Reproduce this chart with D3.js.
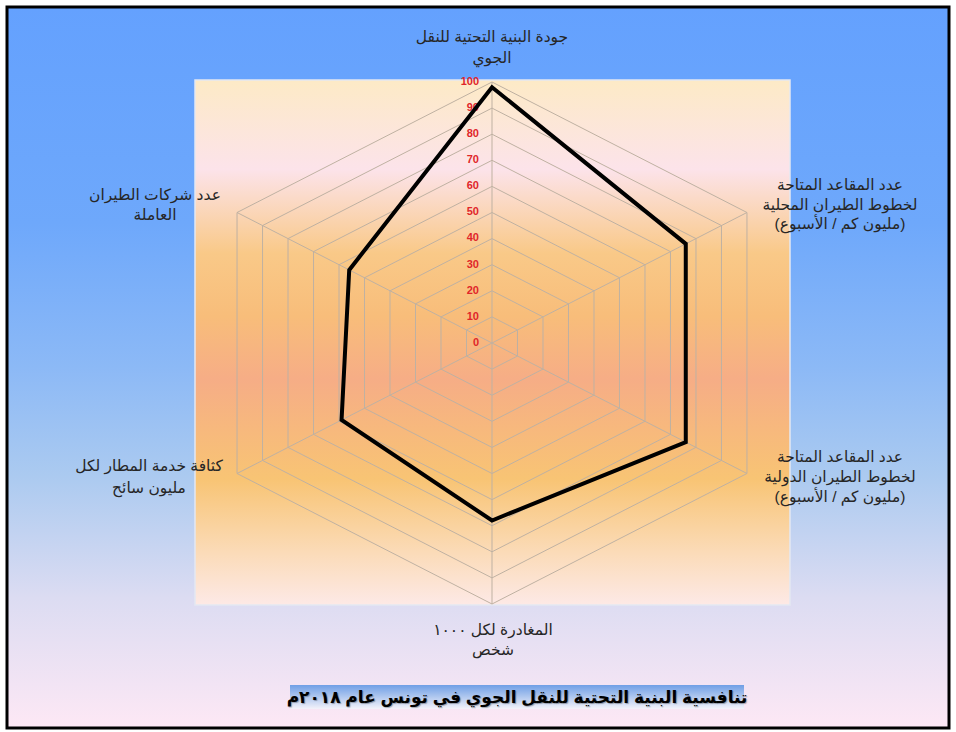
<!DOCTYPE html>
<html><head><meta charset="utf-8">
<script src="https://cdn.jsdelivr.net/npm/d3@7"></script>
<style>html,body{margin:0;padding:0;background:#fff;}svg{display:block;}</style>
</head><body>
<svg id="chart" width="956" height="732"></svg>
<script>
const categories = [
  ["جودة البنية التحتية للنقل","الجوي"],
  ["عدد المقاعد المتاحة","لخطوط الطيران المحلية","(مليون كم / الأسبوع)"],
  ["عدد المقاعد المتاحة","لخطوط الطيران الدولية","(مليون كم / الأسبوع)"],
  ["المغادرة لكل ١٠٠٠","شخص"],
  ["كثافة خدمة المطار لكل","مليون سائح"],
  ["عدد شركات الطيران","العاملة"]
];
const values = [98, 76, 76, 68, 59, 56];
const tickValues = [0,10,20,30,40,50,60,70,80,90,100];
const title = "تنافسية البنية التحتية للنقل الجوي في تونس عام ٢٠١٨م";

const svg = d3.select("#chart");
const W = 956, H = 732;
const defs = svg.append("defs");

const bg = defs.append("linearGradient").attr("id","bg").attr("x1",0).attr("y1",0).attr("x2",0).attr("y2",1);
[[0,"#64a1fe"],[0.3,"#6ea8fb"],[0.5,"#8cb9f6"],[0.65,"#abcaf0"],[0.82,"#dcdcf2"],[1,"#fde8f5"]]
  .forEach(s=>bg.append("stop").attr("offset",s[0]).attr("stop-color",s[1]));

const pg = defs.append("linearGradient").attr("id","pg").attr("x1",0).attr("y1",0).attr("x2",0).attr("y2",1);
[[0,"#fdeac6"],[0.17,"#fce3ea"],[0.33,"#f9c988"],[0.45,"#f8bd7a"],[0.57,"#f6ad86"],[0.76,"#f8c474"],[0.9,"#fbdbb8"],[1,"#fde9e6"]]
  .forEach(s=>pg.append("stop").attr("offset",s[0]).attr("stop-color",s[1]));

const tg = defs.append("linearGradient").attr("id","tg").attr("x1",0).attr("y1",0).attr("x2",0).attr("y2",1);
[[0,"#6f9fe6"],[0.45,"#aac4ee"],[1,"#f4f2fa"]]
  .forEach(s=>tg.append("stop").attr("offset",s[0]).attr("stop-color",s[1]));

svg.append("rect").attr("x",0).attr("y",0).attr("width",W).attr("height",H).attr("fill","#fff");
svg.append("rect").attr("x",7).attr("y",7).attr("width",942).attr("height",721)
  .attr("fill","url(#bg)").attr("stroke","#000").attr("stroke-width",3);

// plot area
svg.append("rect").attr("x",195).attr("y",80).attr("width",595).attr("height",525)
  .attr("fill","url(#pg)").attr("stroke","#e4e8f2").attr("stroke-width",1.5);

const cx = 492, cy = 343, R = 261, sx = 1.128;
const r = d3.scaleLinear().domain([0,100]).range([0,R]);
const n = categories.length;
const ang = d3.scaleLinear().domain([0,n]).range([0,2*Math.PI]);
const px = (i,v)=> cx + r(v)*Math.sin(ang(i))*sx;
const py = (i,v)=> cy - r(v)*Math.cos(ang(i));

const line = d3.line().x(d=>px(d.i,d.v)).y(d=>py(d.i,d.v)).curve(d3.curveLinearClosed);

const grid = svg.append("g");
tickValues.filter(t=>t>0).forEach(t=>{
  grid.append("path").attr("d", line(d3.range(n).map(i=>({i,v:t}))))
    .attr("fill","none").attr("stroke","#bfb1a2").attr("stroke-width",1);
});
d3.range(n).forEach(i=>{
  grid.append("line").attr("x1",cx).attr("y1",cy).attr("x2",px(i,100)).attr("y2",py(i,100))
    .attr("stroke","#bfb1a2").attr("stroke-width",1);
});

// tick labels
svg.append("g").selectAll("text").data(tickValues).join("text")
  .attr("x", cx-13).attr("y", d=>cy - r(d) - 1).attr("dy","0.35em")
  .attr("text-anchor","end").attr("fill","#e0262a")
  .attr("font-family","Arial, 'Liberation Sans', sans-serif").attr("font-weight","bold").attr("font-size",11)
  .text(d=>d);

// data
svg.append("path").attr("d", line(values.map((v,i)=>({i,v}))))
  .attr("fill","none").attr("stroke","#000").attr("stroke-width",4).attr("stroke-linejoin","miter");

// category labels
const labelPos = [[492,37],[840,185],[840,457],[493,630],[149,466],[155,195]];
const lblLH = [20.5,19.5,20,20,22,20];
categories.forEach((lines,i)=>{
  const t = svg.append("text").attr("text-anchor","middle").attr("direction","rtl")
    .attr("font-family","Arial, 'Liberation Sans', 'DejaVu Sans', sans-serif").attr("font-size",15.5)
    .attr("fill","#262626");
  lines.forEach((s,k)=>{
    t.append("tspan").attr("x",labelPos[i][0]).attr("y",labelPos[i][1]+k*lblLH[i]).attr("dy","0.35em").text(s);
  });
});

// title
svg.append("rect").attr("x",290).attr("y",685).attr("width",454).attr("height",24).attr("fill","url(#tg)");
svg.append("text").attr("x",517).attr("y",697).attr("dy","0.35em").attr("text-anchor","middle")
  .attr("direction","rtl")
  .attr("font-family","Arial, 'Liberation Sans', 'DejaVu Sans', sans-serif").attr("font-size",17).attr("font-weight","bold")
  .attr("fill","#000").style("text-shadow","1px 1px 1px rgba(0,0,0,0.3)")
  .text(title);
</script>
</body></html>
